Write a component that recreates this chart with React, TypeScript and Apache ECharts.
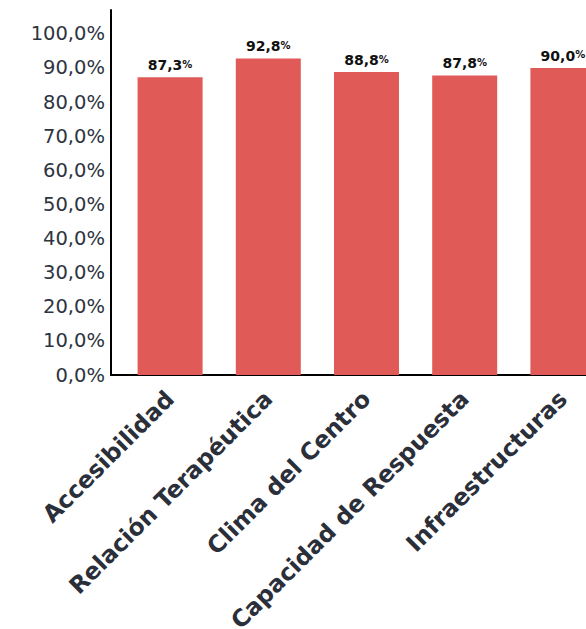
import React, { useEffect, useRef } from "react";
import * as echarts from "echarts";

const categories = [
  "Accesibilidad",
  "Relación Terapéutica",
  "Clima del Centro",
  "Capacidad de Respuesta",
  "Infraestructuras",
];
const values = [87.3, 92.8, 88.8, 87.8, 90.0];
const yMin = 0;
const yMax = 107;
const yStep = 10;

const fmt = (v: number) => v.toFixed(1).replace(".", ",");

export default function App() {
  const ref = useRef<HTMLDivElement>(null);
  useEffect(() => {
    if (!ref.current) return;
    const chart = echarts.init(ref.current, null, { renderer: "svg" });
    const font = "'DejaVu Sans', 'Open Sans', sans-serif";
    chart.setOption({
      animation: false,
      backgroundColor: "#ffffff",
      grid: [
        { left: 111, top: 10, height: 365, right: 0, containLabel: false, outerBoundsMode: "none" },
        { left: 121, top: 10, height: 365, width: 491, containLabel: false, outerBoundsMode: "none" },
      ],
      xAxis: [
        {
          type: "category",
          gridIndex: 0,
          data: [""],
          axisLine: { show: true, lineStyle: { color: "#000", width: 2 } },
          axisTick: { show: false },
          axisLabel: { show: false },
        },
        {
          type: "category",
          gridIndex: 1,
          data: categories,
          axisLine: { show: false },
          axisTick: { show: false },
          axisLabel: {
            rotate: 45,
            interval: 0,
            margin: 20,
            color: "#2a2f3a",
            fontFamily: font,
            fontWeight: "bold",
            fontSize: 23.5,
          },
        },
      ],
      yAxis: [
        {
          type: "value",
          gridIndex: 0,
          min: yMin,
          max: yMax,
          interval: yStep,
          axisLine: { show: true, lineStyle: { color: "#000", width: 2 } },
          axisTick: { show: false },
          splitLine: { show: false },
          axisLabel: {
            margin: 6,
            color: "#2e3440",
            fontFamily: font,
            fontSize: 19.5,
            formatter: (v: number) => (v > 100 ? "" : fmt(v) + "%"),
          },
        },
        {
          type: "value",
          gridIndex: 1,
          min: yMin,
          max: yMax,
          interval: yStep,
          show: false,
          splitLine: { show: false },
        },
      ],
      series: [
        {
          type: "bar",
          xAxisIndex: 1,
          yAxisIndex: 1,
          data: values,
          barWidth: 65,
          itemStyle: { color: "#e05b58" },
          label: {
            show: true,
            position: "top",
            distance: 5,
            formatter: (p: any) => `{v|${fmt(p.value)}}{p|%}`,
            rich: {
              v: {
                fontFamily: font,
                fontWeight: "bold",
                fontSize: 14,
                color: "#111",
              },
              p: {
                fontFamily: font,
                fontWeight: "bold",
                fontSize: 10,
                color: "#111",
                padding: [0, 0, 2, 0],
              },
            },
          },
        },
      ],
    });
    return () => chart.dispose();
  }, []);
  return (
    <div
      ref={ref}
      style={{ position: "fixed", left: 0, top: 0, width: 586, height: 629 }}
    />
  );
}
